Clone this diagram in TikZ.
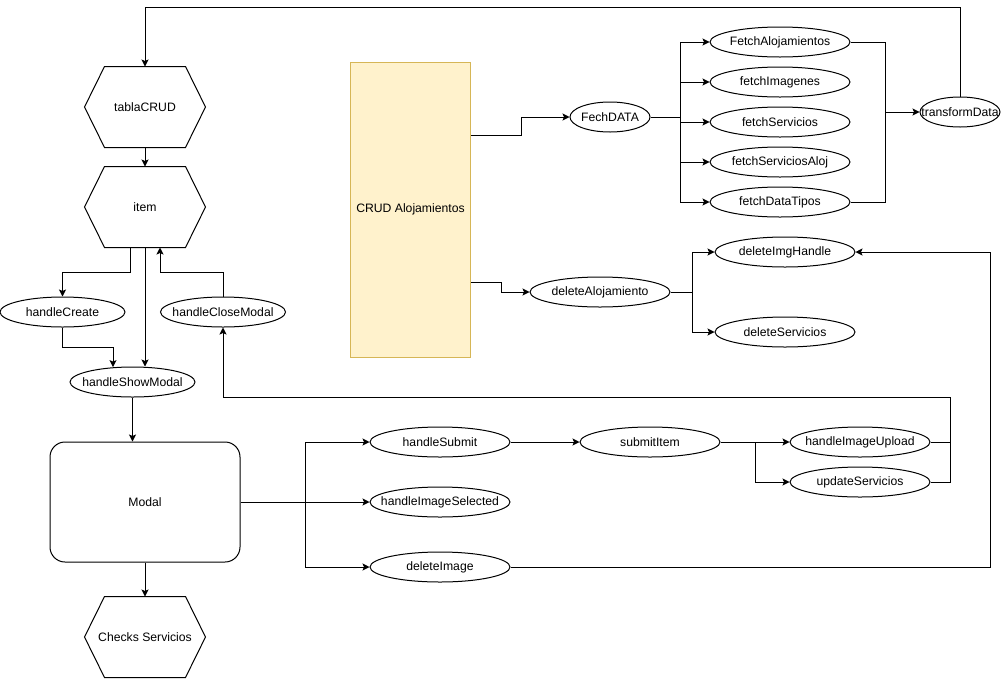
\documentclass[tikz,border=0pt]{standalone}
\usepackage{fontspec}
\setmainfont{Liberation Sans}
\usetikzlibrary{shapes.geometric,arrows.meta,calc}
\definecolor{crudfill}{HTML}{FFF2CC}
\definecolor{crudline}{HTML}{D6B656}
% hexagon around a rectangular node, corners cut by 20 units
\newcommand\hexaround[1]{%
  \draw (#1.west) -- ($(#1.north west)+(20,0)$) -- ($(#1.north east)+(-20,0)$)
    -- (#1.east) -- ($(#1.south east)+(-20,0)$) -- ($(#1.south west)+(20,0)$) -- cycle;}
\begin{document}
\begin{tikzpicture}[x=1pt,y=-1pt,line width=1pt,
  every node/.style={font=\fontsize{12.2}{14}\selectfont},
  ov/.style={ellipse,draw,inner sep=0pt,minimum width=140,minimum height=30,
    execute at begin node={\hbox to 0pt\bgroup\hss},
    execute at end node={\hss\egroup}},
  hexnode/.style={rectangle,minimum width=120,minimum height=80,inner sep=0pt},
  arr/.style={-{Stealth[length=7pt,width=7pt,inset=1.5pt]}}]
\useasboundingbox (0,0) rectangle (1001,678);

% left column
\node[hexnode] (tabla) at (145,107) {tablaCRUD};
\node[hexnode] (item) at (145,207) {item};
\node[hexnode] (checks) at (145,637) {Checks Servicios};
\hexaround{tabla}
\hexaround{item}
\hexaround{checks}
\node[ov,minimum width=125] (hcreate) at (62.5,312) {handleCreate};
\node[ov,minimum width=125] (hclose) at (223,312) {handleCloseModal};
\node[ov,minimum width=125] (hshow) at (132.5,382) {handleShowModal};
\node[draw,rounded corners=15,minimum width=190,minimum height=120,inner sep=0pt] (modal) at (145,502) {Modal};

% CRUD block and fetch functions
\node[draw=crudline,fill=crudfill,minimum width=120,minimum height=295,inner sep=0pt] (crud) at (410.5,209.5) {CRUD Alojamientos};
\node[ov,minimum width=80] (fech) at (610,117) {FechDATA};
\node[ov] (fa) at (780,42) {FetchAlojamientos};
\node[ov] (fi) at (780,82) {fetchImagenes};
\node[ov] (fs) at (780,122) {fetchServicios};
\node[ov] (fsa) at (780,162) {fetchServiciosAloj};
\node[ov] (fdt) at (780,202) {fetchDataTipos};
\node[ov,minimum width=80] (tdata) at (960,112) {transformData};
\node[ov] (delaloj) at (600,292) {deleteAlojamiento};
\node[ov] (delimg) at (785,252) {deleteImgHandle};
\node[ov] (delserv) at (785,332) {deleteServicios};

% modal handlers
\node[ov] (hsubmit) at (440,442) {handleSubmit};
\node[ov] (hisel) at (440,502) {handleImageSelected};
\node[ov] (delimage) at (440,567) {deleteImage};
\node[ov] (submit) at (650,442) {submitItem};
\node[ov] (hiup) at (860,442) {handleImageUpload};
\node[ov] (upserv) at (860,482) {updateServicios};

% routing points
\coordinate (topline) at (0,7);
\coordinate (mb) at (305,502);
\coordinate (sb) at (755,442);
\coordinate (rb) at (950,397);
\coordinate (rx) at (990,0);
\coordinate (fb) at (680,117);
\coordinate (tb) at (885,112);
\coordinate (db) at (692,292);

% left column connectors
\draw[arr] (tdata.north) |- (tabla.north |- topline) -- (tabla.north);
\draw[arr] (tabla.south) -- (item.north);
\draw[arr] ($(item.south)+(-15,0)$) -- ++(0,25) -| (hcreate.north);
\draw[arr] (item.south) -- (item.south |- hshow.north);
\draw[arr] (hcreate.south) -- ++(0,20) -| ($(hshow.north)+(-19.5,0.6)$);
\draw[arr] (hclose.north) |- ($(item.south)+(15,25)$) -- ($(item.south)+(15,0)$);
\draw[arr] (hshow.south) -- (hshow.south |- modal.north);
\draw[arr] (modal.south) -- (checks.north);

% modal handlers
\draw[arr] (modal.east) -- (hisel.west);
\draw[arr] (mb) |- (hsubmit.west);
\draw[arr] (mb) |- (delimage.west);
\draw[arr] (hsubmit.east) -- (submit.west);
\draw[arr] (submit.east) -- (hiup.west);
\draw[arr] (sb) |- (upserv.west);
\draw[arr] (hiup.east) -| (rb) -| (hclose.south);
\draw (upserv.east) -| (rb |- hiup.east);
\draw[arr] (delimage.east) -- (delimage.east -| rx) |- (delimg.east);

% CRUD connectors
\draw[arr] ($(crud.north east)+(0,74)$) -- ++(50,0) |- (fech.west);
\draw[arr] ($(crud.north east)+(0,221)$) -- ++(30,0) |- (delaloj.west);
\draw (fech.east) -- (fb);
\foreach \n in {fa,fi,fs,fsa,fdt} \draw[arr] (fb) |- (\n.west);
\draw (fa.east) -| (tb);
\draw (fdt.east) -| (tb);
\draw[arr] (tb) -- (tdata.west);
\draw (delaloj.east) -- (db);
\draw[arr] (db) |- (delimg.west);
\draw[arr] (db) |- (delserv.west);
\end{tikzpicture}
\end{document}
